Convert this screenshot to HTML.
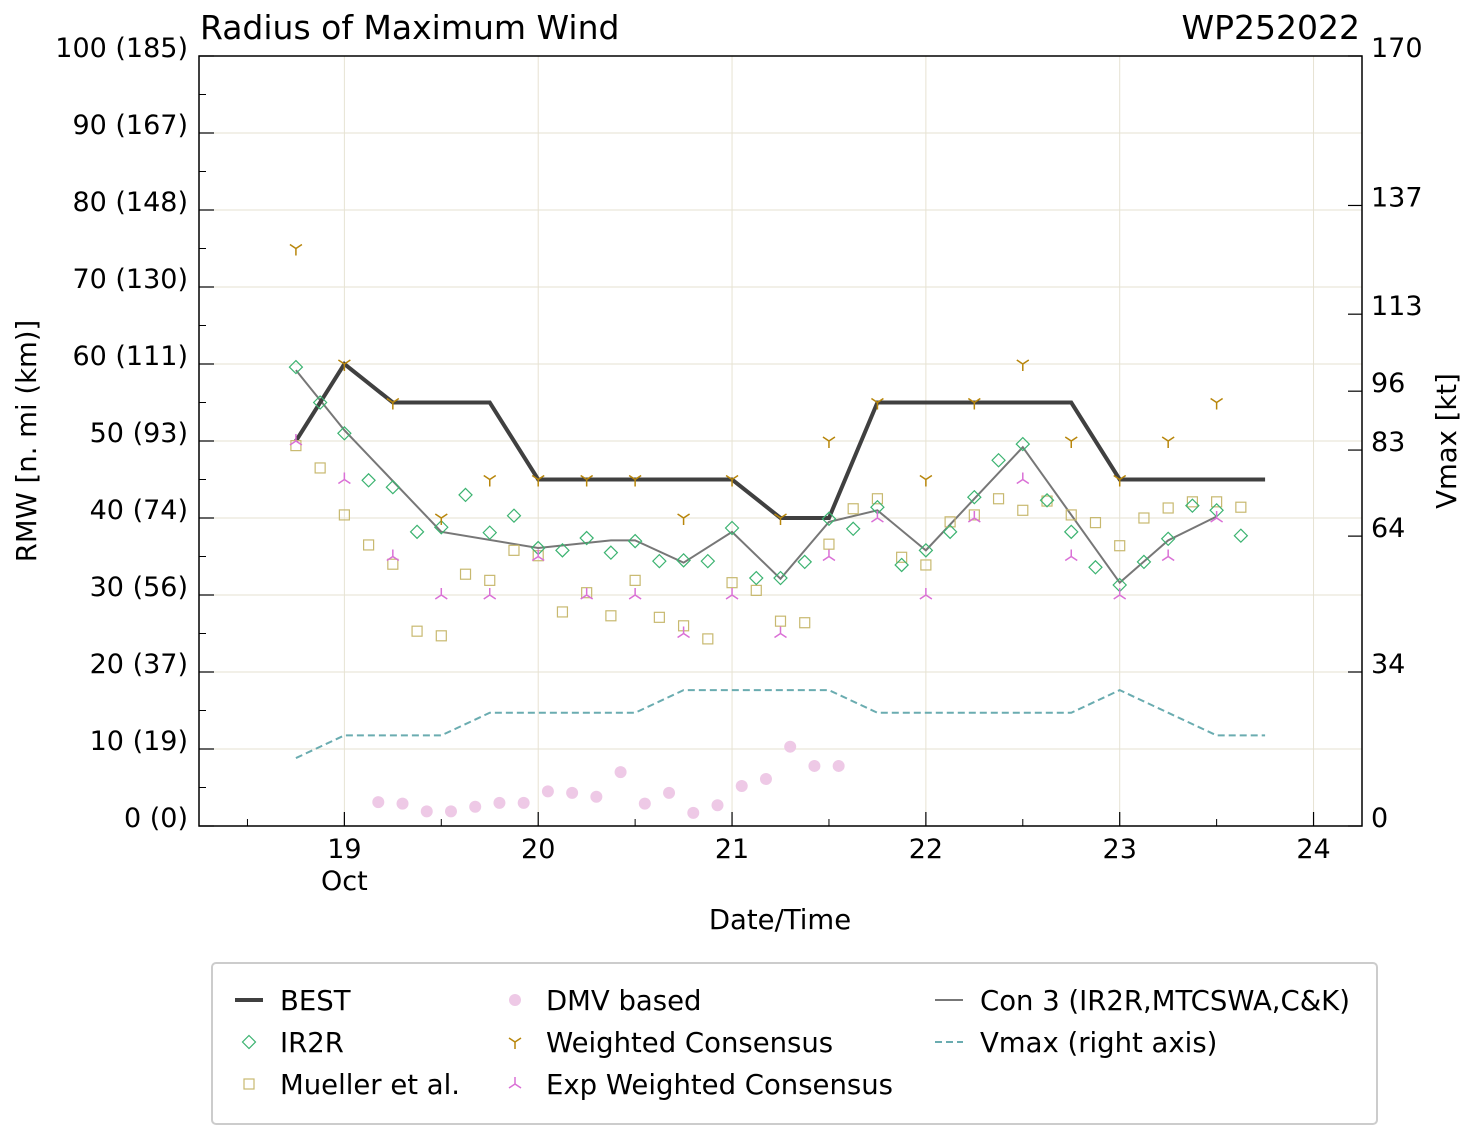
<!DOCTYPE html>
<html><head><meta charset="utf-8">
<style>
html,body{margin:0;padding:0;background:#fff;}
svg{display:block;font-family:"DejaVu Sans","Liberation Sans",sans-serif;}
</style></head>
<body>
<svg id="chart" width="1477" height="1138" viewBox="0 0 1477 1138" xmlns="http://www.w3.org/2000/svg">
<rect width="1477" height="1138" fill="#fff"/>
<g id="grid"></g>
<g id="series"></g>
<rect x="199" y="56" width="1163" height="770" fill="none" stroke="#000" stroke-width="1.5"/>
<g id="axes"></g>
<text x="200" y="39" font-size="33">Radius of Maximum Wind</text>
<text x="1360" y="39" font-size="33" text-anchor="end">WP252022</text>
<text x="780" y="929" font-size="27.5" text-anchor="middle">Date/Time</text>
<text transform="translate(36,441) rotate(-90)" font-size="27.5" text-anchor="middle">RMW [n. mi (km)]</text>
<text transform="translate(1456,441) rotate(-90)" font-size="27.5" text-anchor="middle">Vmax [kt]</text>
<g id="legend">
<rect x="212" y="963" width="1165" height="161" rx="4" fill="#fff" stroke="#ccc" stroke-width="2"/>
</g>
</svg>
<script>
const bestT=[18.75,19,19.25,19.75,20,21,21.25,21.5,21.75,22.75,23,23.75];
const bestV=[50,60,55,55,45,45,40,40,55,55,45,45];
const vmaxT=[18.75,19,19.5,19.75,20.5,20.75,21.5,21.75,22.75,23,23.5,23.75];
const vmaxV=[15,20,20,25,25,30,30,25,25,30,20,20];
const ir2rT=[18.75,18.875,19,19.125,19.25,19.375,19.5,19.625,19.75,19.875,20,20.125,20.25,20.375,20.5,20.625,20.75,20.875,21,21.125,21.25,21.375,21.5,21.625,21.75,21.875,22,22.125,22.25,22.375,22.5,22.625,22.75,22.875,23,23.125,23.25,23.375,23.5,23.625];
const ir2rV=[59.6,55.0,51.0,44.9,44.0,38.2,38.8,43.0,38.1,40.3,36.1,35.8,37.4,35.5,37.0,34.4,34.5,34.4,38.7,32.2,32.2,34.3,39.9,38.6,41.4,33.9,35.8,38.2,42.7,47.5,49.6,42.3,38.2,33.6,31.3,34.3,37.3,41.6,41.0,37.7];
const muelT=ir2rT.slice();
const muelV=[49.4,46.5,40.4,36.5,34.0,25.3,24.7,32.7,31.9,35.8,35.1,27.8,30.3,27.3,31.9,27.1,26.0,24.3,31.6,30.6,26.6,26.4,36.6,41.2,42.5,34.9,33.9,39.5,40.4,42.5,41.0,42.2,40.4,39.4,36.4,40.0,41.3,42.1,42.1,41.4];
const con3T=[18.75,19,19.5,20,20.375,20.5,20.75,21,21.25,21.5,21.75,22,22.5,23,23.25,23.5];
const con3V=[59.2,51.4,38.2,36.1,37.1,37.1,34.2,38.2,32.1,39.5,41,35.8,49.2,31.6,37.1,40.2];
const wcT=[18.75,19,19.25,19.5,19.75,20,20.25,20.5,20.75,21,21.25,21.5,21.75,22,22.25,22.5,22.75,23,23.25,23.5];
const wcV=[75,60,55,40,45,45,45,45,40,45,40,50,55,45,55,60,50,45,50,55];
const ewcT=wcT.slice();
const ewcV=[50,45,35,30,30,35,30,30,25,30,25,35,40,30,40,45,35,30,35,40];
const dmvT=[19.175,19.3,19.425,19.55,19.675,19.8,19.925,20.05,20.175,20.3,20.425,20.55,20.675,20.8,20.925,21.05,21.175,21.3,21.425,21.55];
const dmvV=[3.1,2.9,1.9,1.9,2.5,3.0,3.0,4.5,4.3,3.8,7.0,2.9,4.3,1.7,2.7,5.2,6.1,10.3,7.8,7.8];
const xDays=[19,20,21,22,23,24];
const yTicks=[0,10,20,30,40,50,60,70,80,90,100];
const yTickLabels=["0 (0)","10 (19)","20 (37)","30 (56)","40 (74)","50 (93)","60 (111)","70 (130)","80 (148)","90 (167)","100 (185)"];
const rTicks=[0,34,64,83,96,113,137,170];

const NS="http://www.w3.org/2000/svg";
const X0=199,X1=1362,Y0=826,Y1=56,TMIN=18.25,TMAX=24.25;
const xs=t=>X0+(t-TMIN)/(TMAX-TMIN)*(X1-X0);
const ys=v=>Y0-v/100*(Y0-Y1);
const yr=v=>Y0-v/170*(Y0-Y1);
function mk(tag,attrs,parent,txt){const e=document.createElementNS(NS,tag);for(const k in attrs)e.setAttribute(k,attrs[k]);if(txt!==undefined)e.textContent=txt;parent.appendChild(e);return e;}
const grid=document.getElementById('grid'),axes=document.getElementById('axes'),ser=document.getElementById('series'),leg=document.getElementById('legend');
const GC="#e6e2d2";
xDays.forEach(d=>{const l=mk('line',{x1:xs(d),x2:xs(d),y1:Y1,y2:Y0,stroke:GC,'stroke-width':1},grid);


const t=mk('line',{x1:xs(d),x2:xs(d),y1:Y0,y2:Y0-14,stroke:'#000','stroke-width':1.2},axes);


const tx=mk('text',{x:xs(d),y:858,'font-size':27,'text-anchor':'middle'},axes,String(d));


const m=mk('line',{x1:xs(d-0.5),x2:xs(d-0.5),y1:Y0,y2:Y0-7,stroke:'#000','stroke-width':1},axes);


});
const oct=mk('text',{x:xs(19),y:890,'font-size':27,'text-anchor':'middle'},axes,'Oct');


yTicks.forEach((v,i)=>{const l=mk('line',{x1:X0,x2:X1,y1:ys(v),y2:ys(v),stroke:GC,'stroke-width':1},grid);


const t=mk('line',{x1:X0,x2:X0+15,y1:ys(v),y2:ys(v),stroke:'#000','stroke-width':1.2},axes);


if(v<100){const m=mk('line',{x1:X0,x2:X0+7,y1:ys(v+5),y2:ys(v+5),stroke:'#000','stroke-width':1},axes);

}
const tx=mk('text',{x:188,y:ys(v)+1,'font-size':27,'text-anchor':'end'},axes,yTickLabels[i]);


});
rTicks.forEach(v=>{const t=mk('line',{x1:X1-14,x2:X1,y1:yr(v),y2:yr(v),stroke:'#000','stroke-width':1.2},axes);


const tx=mk('text',{x:1371,y:yr(v)+1,'font-size':27},axes,String(v));


});
function poly(T,V,f,attrs,name){const p=mk('polyline',Object.assign({points:T.map((t,i)=>xs(t)+','+f(V[i])).join(' '),fill:'none'},attrs),ser);

}
const C_IR='#3cb371',C_MU='#c8b970',C_WC='#b8860b',C_EW='#da70d6',C_DMV='#eec9e6',C_V='#6aacb0';
function diamond(g,x,y){mk('path',{d:`M${x} ${y-6.5}L${x+6.5} ${y}L${x} ${y+6.5}L${x-6.5} ${y}Z`,fill:'none',stroke:C_IR,'stroke-width':1.2},g);}
function square(g,x,y){mk('rect',{x:x-5,y:y-5,width:10,height:10,fill:'none',stroke:C_MU,'stroke-width':1.2},g);}
function tri(g,x,y,c,stemDown){const s=stemDown?1:-1;mk('path',{d:`M${x} ${y}L${x} ${y+7*s}M${x} ${y}L${x-6} ${y-4*s}M${x} ${y}L${x+6} ${y-4*s}`,stroke:c,'stroke-width':1.5,fill:'none'},g);}
function dot(g,x,y){mk('circle',{cx:x,cy:y,r:6,fill:C_DMV},g);}
dmvT.forEach((t,i)=>{const g=mk('g',{},ser);


dot(g,xs(t),ys(dmvV[i]));});
poly(vmaxT,vmaxV,yr,{stroke:C_V,'stroke-width':2,'stroke-dasharray':'7,4'},'vmax-line');
poly(con3T,con3V,ys,{stroke:'#777','stroke-width':2},'con3-line');
poly(bestT,bestV,ys,{stroke:'#404040','stroke-width':4},'best-line');
muelT.forEach((t,i)=>{const g=mk('g',{},ser);


square(g,xs(t),ys(muelV[i]));});
ir2rT.forEach((t,i)=>{const g=mk('g',{},ser);


diamond(g,xs(t),ys(ir2rV[i]));});
wcT.forEach((t,i)=>{const g=mk('g',{},ser);


tri(g,xs(t),ys(wcV[i]),C_WC,true);});
ewcT.forEach((t,i)=>{const g=mk('g',{},ser);


tri(g,xs(t),ys(ewcV[i]),C_EW,false);});
const entries=[
 [249,1000,'BEST','best'],[249,1042,'IR2R','ir2r'],[249,1084,'Mueller et al.','mu'],
 [515,1000,'DMV based','dmv'],[515,1042,'Weighted Consensus','wc'],[515,1084,'Exp Weighted Consensus','ewc'],
 [949,1000,'Con 3 (IR2R,MTCSWA,C&K)','con3'],[949,1042,'Vmax (right axis)','vmax']];
entries.forEach(e=>{const [x,y,label,k]=e;const g=mk('g',{},leg);


if(k==='best')mk('line',{x1:x-14,x2:x+14,y1:y,y2:y,stroke:'#404040','stroke-width':4},g);
if(k==='con3')mk('line',{x1:x-14,x2:x+14,y1:y,y2:y,stroke:'#777','stroke-width':2},g);
if(k==='vmax')mk('line',{x1:x-14,x2:x+14,y1:y,y2:y,stroke:C_V,'stroke-width':2,'stroke-dasharray':'7,4'},g);
if(k==='ir2r')diamond(g,x,y);
if(k==='mu')square(g,x,y);
if(k==='dmv')dot(g,x,y);
if(k==='wc')tri(g,x,y,C_WC,true);
if(k==='ewc')tri(g,x,y,C_EW,false);
mk('text',{x:x+31,y:y+10,'font-size':27.5},g,label);});
</script>
</body></html>
